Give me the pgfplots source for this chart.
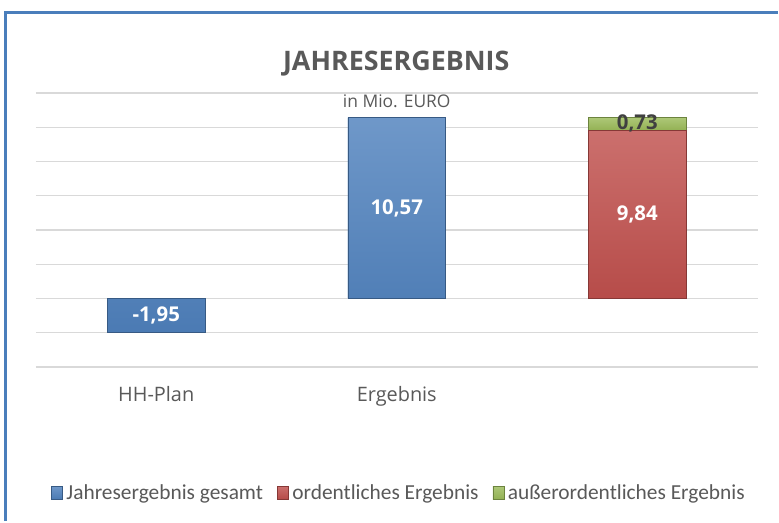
\documentclass[border=0pt]{standalone}
\usepackage{pgfplots}
\pgfplotsset{compat=1.18}
\usepackage{fontspec}
\setmainfont{Open Sans}
\newfontfamily\legfont{Carlito}
\definecolor{barblue}{HTML}{4F81BD}
\definecolor{barred}{HTML}{C0504D}
\definecolor{bargreen}{HTML}{9BBB59}
\definecolor{txtgray}{HTML}{595959}
\definecolor{framblue}{HTML}{4A7EBB}

\begin{document}
\begin{tikzpicture}
% page area, 1px = 1bp, origin at top left
\fill[white] (0,0) rectangle (779bp,-522bp);
\draw[framblue, line width=3bp] (6bp,-522bp) -- (6bp,-13bp) -- (779bp,-13bp);
\node[font=\bfseries\fontsize{27}{30}\selectfont, text=txtgray] at (397bp,-64bp) {JAHRESERGEBNIS};
\begin{axis}[
at={(36bp,-367.6bp)},
anchor=south west,
scale only axis,
width=723bp,
height=274.3bp,
ybar stacked,
bar width=98bp,
xmin=-0.5, xmax=2.5,
ymin=-4, ymax=12,
xtick={0,1,2},
xticklabels={HH-Plan,Ergebnis,{}},
xtick style={draw=none},
ytick={-4,-2,0,2,4,6,8,10,12},
yticklabels={},
ytick style={draw=none},
ymajorgrids=true,
major grid style={gray!30, line width=1.3pt},
axis line style={draw=none},
xticklabel style={font=\fontsize{20}{22}\selectfont, text=txtgray, yshift=-16bp},
legend style={at={(0.503,-0.461)}, anchor=center, draw=none, legend columns=3,
  font=\legfont\fontsize{21.5}{24}\selectfont, text=txtgray, inner sep=0pt,
  /tikz/every odd column/.append style={column sep=2bp},
  /tikz/every even column/.append style={column sep=12bp}},
legend image code/.code={\fill[#1] (0bp,-6bp) rectangle (11bp,7bp);},
clip=false
]
\addplot[fill=barblue, draw=barblue!70!black, top color=barblue!82!white, bottom color=barblue!95!black] coordinates {(0,-1.95) (1,10.57) (2,0)};
\addplot[fill=barred, draw=barred!70!black, top color=barred!82!white, bottom color=barred!95!black] coordinates {(0,0) (1,0) (2,9.84)};
\addplot[fill=bargreen, draw=bargreen!70!black, top color=bargreen!82!white, bottom color=bargreen!95!black] coordinates {(0,0) (1,0) (2,0.73)};
\legend{Jahresergebnis gesamt, ordentliches Ergebnis, außerordentliches Ergebnis}
\coordinate (sub) at (axis cs:1,11.55);
\coordinate (la) at (axis cs:0,-0.975);
\coordinate (lb) at (axis cs:1,5.285);
\coordinate (lc) at (axis cs:2,4.92);
\coordinate (ld) at (axis cs:2,10.22);
\end{axis}
\node[font=\fontsize{17.5}{19}\selectfont, text=txtgray] at (sub) {in Mio. EURO};
\node[font=\bfseries\fontsize{20.5}{22}\selectfont, text=white] at (la) {-1,95};
\node[font=\bfseries\fontsize{20.5}{22}\selectfont, text=white] at (lb) {10,57};
\node[font=\bfseries\fontsize{20.5}{22}\selectfont, text=white] at (lc) {9,84};
\node[font=\bfseries\fontsize{20.5}{22}\selectfont, text=black!75] at (ld) {0,73};
\end{tikzpicture}
\end{document}
